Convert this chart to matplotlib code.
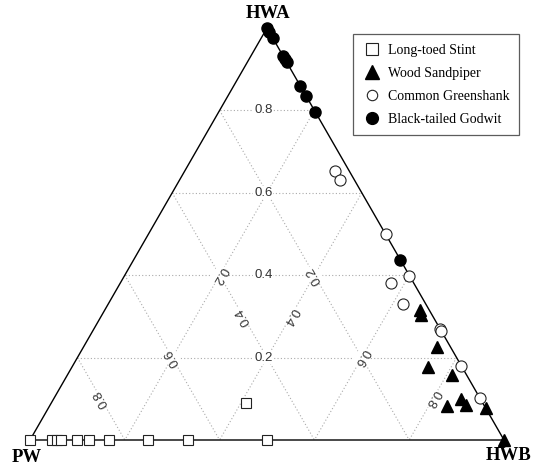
import numpy as np
import matplotlib.pyplot as plt
from matplotlib.lines import Line2D

# proportions of each habitat: HWA (top), HWB (bottom right); PW is the remainder
stint_hwa = [0, 0, 0, 0, 0, 0, 0, 0, 0, 0, 0.09]
stint_hwb = [0, 0.046, 0.057, 0.065, 0.099, 0.124, 0.167, 0.249, 0.333, 0.5, 0.41]

sandpiper_hwa = [0.316, 0.304, 0.226, 0.178, 0.158, 0.083, 0.100, 0.085, 0.078, 0.0]
sandpiper_hwb = [0.665, 0.673, 0.746, 0.751, 0.811, 0.838, 0.859, 0.877, 0.922, 1.0]

greenshank_hwa = [0.652, 0.630, 0.499, 0.399, 0.380, 0.331, 0.270, 0.264, 0.180, 0.102]
greenshank_hwb = [0.318, 0.340, 0.501, 0.601, 0.572, 0.621, 0.730, 0.736, 0.820, 0.898]

godwit_hwa = [1.0, 0.990, 0.976, 0.932, 0.925, 0.917, 0.859, 0.835, 0.796, 0.438]
godwit_hwb = [0.0, 0.010, 0.024, 0.068, 0.075, 0.083, 0.141, 0.165, 0.204, 0.562]

grid_vals = [0.2, 0.4, 0.6, 0.8]
H = np.sqrt(3) / 2


def tern(a, b):
    # a = HWA share, b = HWB share -> cartesian (PW at origin)
    a = np.asarray(a, float)
    b = np.asarray(b, float)
    return b + a / 2, a * H


fig = plt.figure(figsize=(5.33, 4.68), dpi=100)
ax = fig.add_axes([30 / 533, 28 / 468, 474 / 533, 412 / 468])
ax.set_xlim(0, 1)
ax.set_ylim(0, H)
ax.axis('off')

# grid lines, labelled at their midpoints
gkw = dict(color='#aaaaaa', lw=0.8, linestyle=(0, (1, 2)), zorder=1)
lkw = dict(fontsize=9.5, color='#333333', ha='center', va='center',
           family='Liberation Sans', zorder=2,
           bbox=dict(facecolor='white', edgecolor='none', pad=0.5))
for g in grid_vals:
    # constant HWA
    x, y = tern([g, g], [0, 1 - g])
    ax.plot(x, y, **gkw)
    ax.text(x.mean() - 0.008, y.mean(), f'{g:.1f}', rotation=0, **lkw)
    # constant HWB
    x, y = tern([1 - g, 0], [g, g])
    ax.plot(x, y, **gkw)
    ax.text(x.mean(), y.mean(), f'{g:.1f}', rotation=240, **lkw)
    # constant PW
    x, y = tern([1 - g, 0], [0, 1 - g])
    ax.plot(x, y, **gkw)
    ax.text(x.mean(), y.mean(), f'{g:.1f}', rotation=120, **lkw)

# triangle outline
x, y = tern([0, 0, 1, 0], [0, 1, 0, 0])
ax.plot(x, y, color='black', lw=1.0, zorder=3, clip_on=False)

mk = dict(linestyle='none', clip_on=False, zorder=4)
x, y = tern(stint_hwa, stint_hwb)
ax.plot(x, y, marker='s', ms=7.5, mfc='white', mec='#222222', mew=0.8, **mk)
x, y = tern(greenshank_hwa, greenshank_hwb)
ax.plot(x, y, marker='o', ms=8, mfc='white', mec='#222222', mew=0.8, **mk)
x, y = tern(godwit_hwa, godwit_hwb)
ax.plot(x, y, marker='o', ms=8, mfc='black', mec='black', **mk)
x, y = tern(sandpiper_hwa, sandpiper_hwb)
ax.plot(x, y, marker='^', ms=9, mfc='black', mec='black', **mk)

vkw = dict(fontsize=13.5, fontweight='bold', family='Liberation Serif',
           ha='center', va='center')
fig.text(268 / 533, 1 - 14 / 468, 'HWA', **vkw)
fig.text(27 / 533, 1 - 457 / 468, 'PW', **vkw)
fig.text(509 / 533, 1 - 455 / 468, 'HWB', **vkw)

handles = [
    Line2D([], [], marker='s', ms=8, mfc='white', mec='#222222', mew=0.8, ls='none'),
    Line2D([], [], marker='^', ms=10, mfc='black', mec='black', ls='none'),
    Line2D([], [], marker='o', ms=7.5, mfc='white', mec='#222222', mew=0.8, ls='none'),
    Line2D([], [], marker='o', ms=8.5, mfc='black', mec='black', ls='none'),
]
labels = ['Long-toed Stint', 'Wood Sandpiper', 'Common Greenshank', 'Black-tailed Godwit']
leg = fig.legend(handles, labels, loc='upper left',
                 bbox_to_anchor=(353 / 533, 1 - 34 / 468), borderaxespad=0,
                 prop={'family': 'Liberation Serif', 'size': 10},
                 frameon=True, fancybox=False, edgecolor='#333333',
                 labelspacing=0.72, handlelength=1.34, handletextpad=0.45,
                 borderpad=0.7)
leg.get_frame().set_linewidth(0.9)

fig.savefig('out.png', dpi=100)
